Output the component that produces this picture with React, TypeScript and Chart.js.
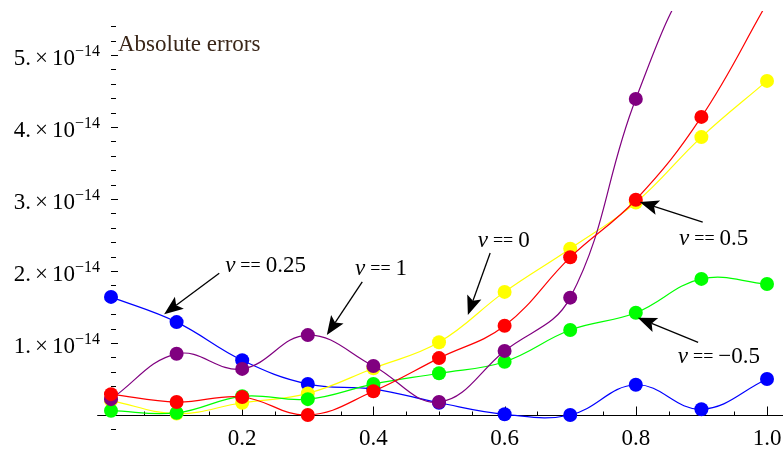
import React, { useEffect, useRef } from "react";
import { Chart, registerables } from "chart.js";

Chart.register(...registerables);

// x positions of samples
const xValues = [0, 0.1, 0.2, 0.3, 0.4, 0.5, 0.6, 0.7, 0.8, 0.9, 1.0];
// absolute errors, in units of 1e-14
const errNuHalf = [0.29, 0.18, 0.25, 0.0, 0.33, 0.79, 1.24, 2.19, 2.99, 4.14, 5.72]; // ν = 0.5
const errNuOne = [0.22, 0.85, 0.64, 1.11, 0.68, 0.18, 0.89, 1.63, 4.39, 6.3, 7.0]; // ν = 1
const errNuMinusHalf = [0.06, 0.03, 0.26, 0.22, 0.43, 0.58, 0.74, 1.18, 1.42, 1.89, 1.82]; // ν = -0.5
const errNuZero = [0.2, 0.02, 0.17, 0.3, 0.65, 1.01, 1.71, 2.31, 2.95, 3.86, 4.64]; // ν = 0
const errNuQuarter = [1.64, 1.29, 0.76, 0.43, 0.36, 0.17, 0.01, 0.0, 0.42, 0.08, 0.5]; // ν = 0.25

const SCALE_EXPONENT = "\u221214";
const yTickValues = [1, 2, 3, 4, 5];
const xTickValues = [0.2, 0.4, 0.6, 0.8, 1.0];
const xTickLabels = ["0.2", "0.4", "0.6", "0.8", "1.0"];
const AXIS_LABEL = "Absolute errors";

// annotation labels (data coordinates)
const annotationLabels = ["0.25", "1", "0", "0.5", "\u22120.5"];
const annotationText = [[0.174, 1.99], [0.372, 1.94], [0.559, 2.33], [0.866, 2.36], [0.864, 0.72]];
const annotationTail = [[0.165, 1.97], [0.383, 1.85], [0.578, 2.25], [0.902, 2.68], [0.895, 1.01]];
const annotationHead = [[0.081, 1.4], [0.329, 1.11], [0.544, 1.39], [0.806, 2.96], [0.803, 1.35]];

const FONT = "'Liberation Serif', 'Times New Roman', serif";

function toPts(ys: number[]) {
  return ys.map((y, i) => ({ x: xValues[i], y }));
}

function drawArrow(ctx: CanvasRenderingContext2D, x1: number, y1: number, x2: number, y2: number) {
  const ang = Math.atan2(y2 - y1, x2 - x1);
  const L = 19, W = 7.5, N = 4;
  const c = Math.cos(ang), s = Math.sin(ang);
  const bx = x2 - c * (L - N), by = y2 - s * (L - N);
  ctx.save();
  ctx.strokeStyle = "#000";
  ctx.fillStyle = "#000";
  ctx.lineWidth = 1.3;
  ctx.beginPath();
  ctx.moveTo(x1, y1);
  ctx.lineTo(bx, by);
  ctx.stroke();
  const rx = x2 - c * L, ry = y2 - s * L;
  ctx.beginPath();
  ctx.moveTo(x2, y2);
  ctx.lineTo(rx - s * W, ry + c * W);
  ctx.lineTo(bx, by);
  ctx.lineTo(rx + s * W, ry - c * W);
  ctx.closePath();
  ctx.fill();
  ctx.restore();
}

function drawNuLabel(ctx: CanvasRenderingContext2D, x: number, y: number, value: string) {
  ctx.save();
  ctx.fillStyle = "#000";
  ctx.textAlign = "left";
  ctx.textBaseline = "alphabetic";
  ctx.font = `italic 23px ${FONT}`;
  ctx.fillText("\u03bd", x, y);
  let cx = x + ctx.measureText("\u03bd").width + 5;
  ctx.font = `18px ${FONT}`;
  ctx.fillText("==", cx, y - 1);
  cx += ctx.measureText("==").width + 5;
  ctx.font = `23px ${FONT}`;
  ctx.fillText(value, cx, y);
  ctx.restore();
}

const axesPlugin = {
  id: "mmaAxes",
  beforeDatasetsDraw(chart: any) {
    const ctx: CanvasRenderingContext2D = chart.ctx;
    const xs = chart.scales.x;
    const ys = chart.scales.y;
    const y0 = Math.round(ys.getPixelForValue(0)) + 0.5;
    const x0 = xs.getPixelForValue(0);
    ctx.save();
    ctx.strokeStyle = "#000";
    ctx.lineWidth = 1;
    // x axis line
    ctx.beginPath();
    ctx.moveTo(xs.getPixelForValue(-0.021), y0);
    ctx.lineTo(chart.width, y0);
    ctx.stroke();
    // x ticks
    for (let k = 0; k <= 20; k++) {
      const v = k * 0.05;
      const px = Math.round(xs.getPixelForValue(v)) + 0.5;
      const major = k % 4 === 0;
      ctx.beginPath();
      ctx.moveTo(px, y0);
      ctx.lineTo(px, y0 - (major ? 9 : 4));
      ctx.stroke();
    }
    // y ticks (no axis line)
    for (let k = -1; k <= 27; k++) {
      if (k === 0) continue;
      const v = k * 0.2;
      const py = Math.round(ys.getPixelForValue(v)) + 0.5;
      const major = k % 5 === 0;
      ctx.beginPath();
      ctx.moveTo(x0, py);
      ctx.lineTo(x0 + (major ? 7 : 5), py);
      ctx.stroke();
    }
    // x tick labels
    ctx.fillStyle = "#000";
    ctx.font = `23px ${FONT}`;
    ctx.textAlign = "center";
    ctx.textBaseline = "alphabetic";
    xTickValues.forEach((v, i) => {
      ctx.fillText(xTickLabels[i], xs.getPixelForValue(v), y0 + 29);
    });
    // y tick labels: "n.×10^-14"
    yTickValues.forEach((v) => {
      const py = ys.getPixelForValue(v);
      const base = py + 10;
      const right = x0 - 11;
      ctx.textAlign = "left";
      ctx.font = `16px ${FONT}`;
      const wSup = ctx.measureText(SCALE_EXPONENT).width;
      ctx.font = `23px ${FONT}`;
      const p1 = `${v}.`;
      const w1 = ctx.measureText(p1).width;
      const w2 = ctx.measureText("\u00d7").width;
      const w3 = ctx.measureText("10").width;
      const gap = 4;
      const total = w1 + gap + w2 + gap + w3 + wSup;
      let cx = right - total;
      ctx.fillText(p1, cx, base);
      cx += w1 + gap;
      ctx.fillText("\u00d7", cx, base);
      cx += w2 + gap;
      ctx.fillText("10", cx, base);
      cx += w3;
      ctx.font = `16px ${FONT}`;
      ctx.fillText(SCALE_EXPONENT, cx, base - 9);
    });
    // axis label
    ctx.fillStyle = "#3a2618";
    ctx.font = `23px ${FONT}`;
    ctx.textAlign = "left";
    ctx.fillText(AXIS_LABEL, x0 + 7, ys.getPixelForValue(5) - 4);
    ctx.restore();
  },
  afterDatasetsDraw(chart: any) {
    const ctx: CanvasRenderingContext2D = chart.ctx;
    const xs = chart.scales.x;
    const ys = chart.scales.y;
    annotationLabels.forEach((lab, i) => {
      const [hx, hy] = annotationHead[i];
      const [tx, ty] = annotationTail[i];
      const [lx, ly] = annotationText[i];
      drawArrow(
        ctx,
        xs.getPixelForValue(tx),
        ys.getPixelForValue(ty),
        xs.getPixelForValue(hx),
        ys.getPixelForValue(hy)
      );
      drawNuLabel(ctx, xs.getPixelForValue(lx), ys.getPixelForValue(ly), lab);
    });
  },
};

export default function App() {
  const canvasRef = useRef<HTMLCanvasElement | null>(null);
  useEffect(() => {
    document.body.style.margin = "0";
    const canvas = canvasRef.current;
    if (!canvas) return;
    const mk = (label: string, data: number[], color: string) => ({
      label,
      data: toPts(data),
      borderColor: color,
      backgroundColor: color,
      pointBackgroundColor: color,
      pointBorderWidth: 0,
      pointRadius: 7,
      borderWidth: 1.2,
      tension: 0.4,
      clip: 0,
    });
    const chart = new Chart(canvas, {
      type: "line",
      data: {
        datasets: [
          mk("ν = 0.5", errNuHalf, "#ff0000"),
          mk("ν = 1", errNuOne, "#800080"),
          mk("ν = -0.5", errNuMinusHalf, "#00ff00"),
          mk("ν = 0", errNuZero, "#ffff00"),
          mk("ν = 0.25", errNuQuarter, "#0000ff"),
        ],
      },
      options: {
        animation: false,
        responsive: false,
        devicePixelRatio: 1,
        layout: { autoPadding: false, padding: { top: 11, left: 0, right: 0, bottom: 0 } },
        plugins: { legend: { display: false }, tooltip: { enabled: false } },
        scales: {
          x: { type: "linear", display: false, min: -0.16921, max: 1.02439 },
          y: { type: "linear", display: false, min: -0.486, max: 5.611 },
        },
      },
      plugins: [axesPlugin],
    } as any);
    return () => chart.destroy();
  }, []);
  return (
    <div style={{ width: 783, height: 450 }}>
      <canvas ref={canvasRef} width={783} height={450} style={{ display: "block" }} />
    </div>
  );
}
